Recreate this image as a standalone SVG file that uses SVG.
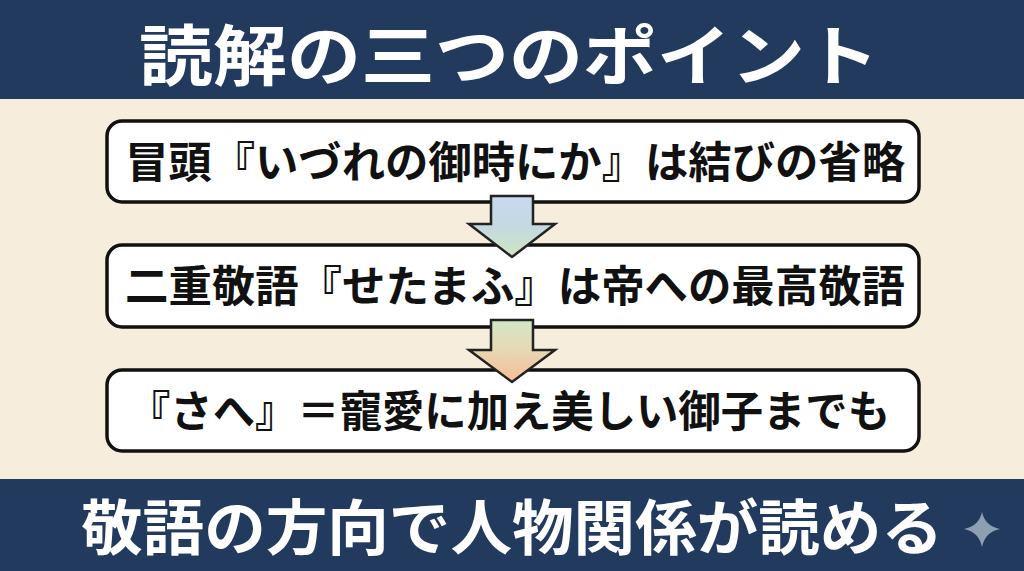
<svg xmlns="http://www.w3.org/2000/svg" width="1024" height="571" viewBox="0 0 1024 571">
<defs>
<style>
.band{fill:#223a5e}
.title{font-family:"Noto Sans CJK JP","Noto Sans",sans-serif;font-weight:700;fill:#ffffff;text-anchor:middle}
.box{fill:#ffffff;stroke:#111111;stroke-width:3.5}
.lbl{font-family:"Noto Sans CJK JP","Noto Sans",sans-serif;font-weight:700;font-size:43px;fill:#111111;text-anchor:middle}
.arrow{stroke:#222222;stroke-width:2.5;stroke-linejoin:miter}
</style>
<linearGradient id="g1" x1="0" y1="0" x2="0" y2="1">
<stop offset="0" stop-color="#c9d8f0"/>
<stop offset="0.5" stop-color="#c4d9e0"/>
<stop offset="1" stop-color="#cfe5c2"/>
</linearGradient>
<linearGradient id="g2" x1="0" y1="0" x2="0" y2="1">
<stop offset="0" stop-color="#d3e7c6"/>
<stop offset="0.45" stop-color="#e6d9b6"/>
<stop offset="1" stop-color="#f6bd98"/>
</linearGradient>
</defs>
<rect x="0" y="0" width="1024" height="571" fill="#f6eddd"/>
<g id="header">
<rect class="band" x="0" y="0" width="1024" height="99"/>
<text class="title" x="509" y="80" font-size="66" textLength="740" lengthAdjust="spacingAndGlyphs">読解の三つのポイント</text>
</g>
<g id="node1">
<rect class="box" x="107" y="121" width="812" height="81" rx="15"/>
<text class="lbl" x="515" y="178" textLength="780" lengthAdjust="spacingAndGlyphs">冒頭『いづれの御時にか』は結びの省略</text>
</g>
<g id="node2">
<rect class="box" x="107" y="245" width="812" height="82" rx="15"/>
<text class="lbl" x="515" y="302" textLength="780" lengthAdjust="spacingAndGlyphs">二重敬語『せたまふ』は帝への最高敬語</text>
</g>
<g id="node3">
<rect class="box" x="107" y="370" width="812" height="81" rx="15"/>
<text class="lbl" x="509" y="427" textLength="762" lengthAdjust="spacingAndGlyphs">『さへ』＝寵愛に加え美しい御子までも</text>
</g>
<g id="connectors">
<path class="arrow" fill="url(#g1)" d="M491 196 L533 196 L533 224 L555 224 L512 257 L469 224 L491 224 Z"/>
<path class="arrow" fill="url(#g2)" d="M491 320 L533 320 L533 350 L555 350 L512 382 L469 350 L491 350 Z"/>
</g>
<g id="footer">
<rect class="band" x="0" y="479" width="1024" height="92"/>
<text class="title" x="512" y="550" font-size="60" textLength="862" lengthAdjust="spacingAndGlyphs">敬語の方向で人物関係が読める</text>
<path d="M982 512 Q985 526 1000 529 Q985 532 982 547 Q979 532 964 529 Q979 526 982 512 Z" fill="#8f9fb3"/>
</g>
</svg>
